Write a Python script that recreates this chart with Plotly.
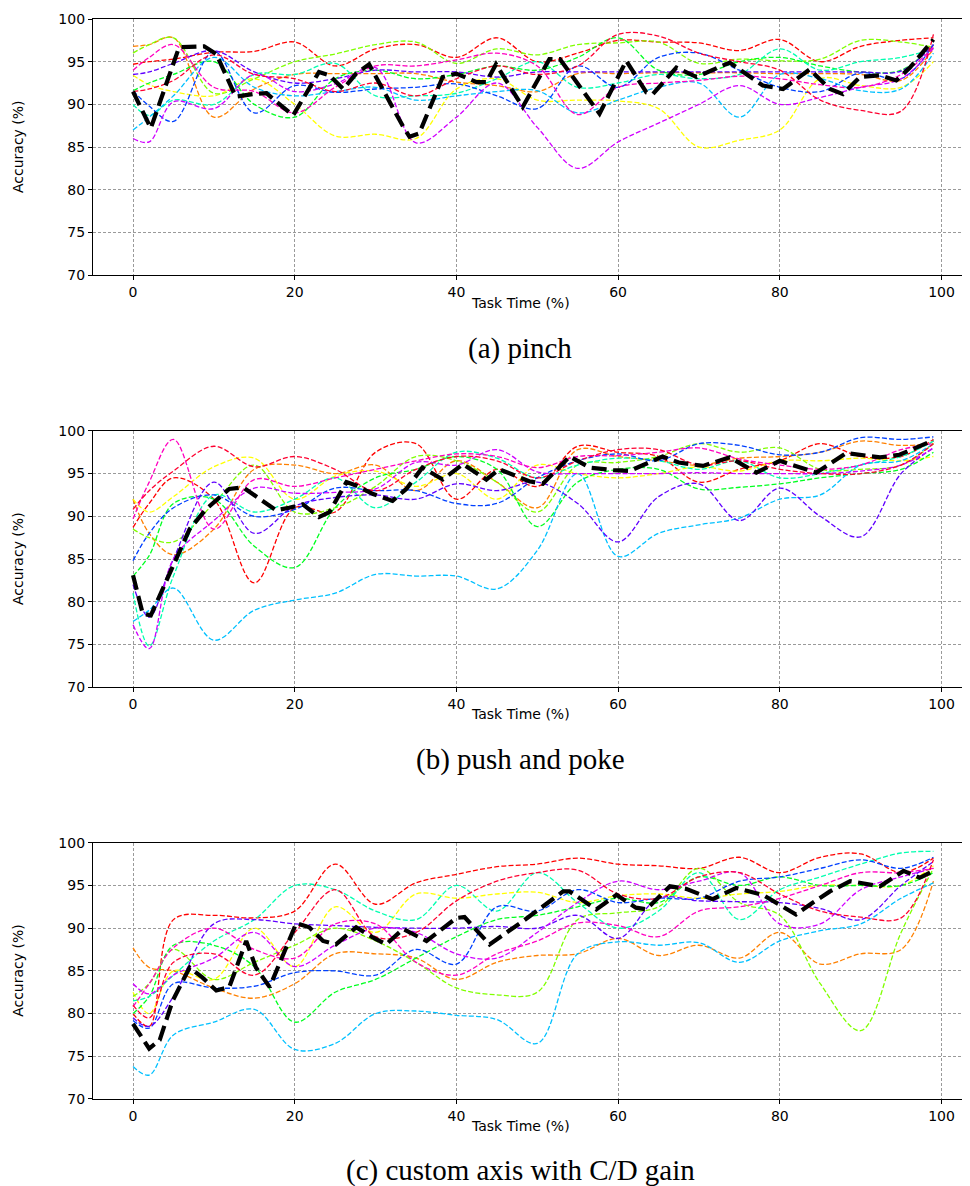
import plotly.graph_objects as go

# ---------------- data ----------------
task_time = [0, 2, 5, 10, 15, 20, 25, 30, 35, 40, 45, 50, 55, 60, 65, 70, 75, 80, 85, 90, 95, 99]

participant_colors = ['#ff0000', '#ff8000', '#ffff00', '#80ff00', '#00ff20', '#00ffb0',
                      '#00c0ff', '#0040ff', '#6000ff', '#d000ff', '#ff00c0', '#ff0030']

# (a) pinch  -- one list per participant, in colour order
pinch_red    = [94.7, 95, 95.3, 96.1, 96.2, 97.3, 94.5, 96.5, 97, 95.5, 97.8, 95, 96, 97.5, 97.3, 97.2, 96.3, 97.6, 95, 96.8, 97.5, 97.8]
pinch_orange = [96.8, 97, 97.8, 88.5, 91.8, 93.5, 93.6, 93.6, 93.6, 92.6, 92.2, 91.5, 93.6, 93.6, 93.7, 93.7, 93.7, 93.6, 93.6, 93.5, 92.8, 96.5]
pinch_yellow = [93.4, 92.3, 91.5, 91, 93, 90, 86.3, 86.5, 86, 91.8, 93, 90.5, 90.5, 90.4, 89.5, 85, 85.8, 87, 93, 92.2, 92, 95]
pinch_lime   = [96, 97, 97.8, 91.3, 93, 95, 95.9, 97, 97.3, 94.8, 96.5, 95.8, 97, 97.2, 97.3, 94.8, 95.3, 95.1, 95.3, 97.5, 97.3, 96.7]
pinch_green  = [91.6, 92.5, 93.5, 95, 90, 88.5, 93, 94, 93, 93.5, 94.5, 94, 95.5, 97.8, 94, 93.5, 95, 95.5, 94.5, 93.8, 94, 97]
pinch_spring = [90, 88.7, 90.5, 90, 93.5, 93.5, 94.8, 91, 91, 91.3, 93, 95, 92, 92.5, 93.5, 93, 93.5, 96.5, 94, 95, 95.5, 96.5]
pinch_sky    = [87, 88.5, 91, 95.5, 92, 91, 91.5, 92, 90.5, 91, 91.5, 91.6, 89, 90.5, 92, 92.5, 88.5, 93.5, 93, 91.6, 91.8, 96]
pinch_blue   = [91.6, 89.8, 88, 96.2, 89, 92.2, 91.4, 91.8, 92, 92.4, 91, 89.5, 94.5, 92, 95.5, 96, 94, 92, 91.5, 93.7, 93, 97]
pinch_violet = [93.5, 93.8, 94.8, 96.3, 93.8, 92.5, 93, 94, 93.8, 93.8, 93.2, 93.8, 93.8, 93.8, 93.8, 93.8, 93.8, 93.8, 93.8, 93.8, 93.9, 97]
pinch_purple = [86, 85.6, 90.3, 89.5, 93.5, 91.5, 92.4, 94.3, 85.5, 88.5, 92.5, 87.3, 82.5, 85.6, 87.8, 90, 92.2, 90, 90.8, 92, 93, 96.6]
pinch_pink   = [94, 95.5, 97, 92, 91.5, 89, 92, 94.5, 94.5, 95.2, 96, 94.5, 88.8, 92, 92.5, 92.8, 93.3, 93, 92.3, 92, 93.5, 96.7]
pinch_red2   = [91.5, 91.8, 92.8, 95.8, 93.5, 93, 91.5, 92.5, 91, 93, 94.5, 93.5, 94.5, 98.2, 98, 96, 95, 94, 90.5, 89.3, 89.2, 98.2]

pinch_mean_x = [0, 2.2, 5.7, 8.8, 10.3, 12.7, 14.8, 16.5, 19.8, 23, 24.3, 26, 27.6, 29.2, 33.4, 34.2, 35.4, 38.3, 40,
                42.5, 43.7, 44.9, 48.2, 51.5, 52.8, 56.9, 57.7, 61, 63.5, 64.3, 67.2, 69.7, 73.8, 77.9, 80.4, 83.7,
                86.2, 87.8, 89.9, 92.4, 94.4, 96.1, 99]
pinch_mean_y = [91.5, 87.2, 96.7, 96.8, 95.9, 90.9, 91.2, 91.3, 88.7, 93.8, 93.4, 91.8, 93.6, 94.7, 87.4, 86.2, 86.6, 93.2, 93.6,
                92.6, 92.6, 94.7, 89.7, 95.3, 95.3, 90.1, 88.9, 95.1, 91.4, 91.2, 94.3, 93.2, 94.9, 92.2, 91.8, 94.1,
                91.8, 91.2, 93.2, 93.4, 92.8, 94.3, 97.6]

# (b) push and poke
push_red    = [88.7, 91.5, 94.5, 92, 82.2, 91, 90.5, 97.5, 98.5, 92, 95.5, 93.5, 98.2, 97.5, 97, 94, 95.5, 96.5, 98.5, 97, 97, 99]
push_orange = [92, 88, 85.5, 88.5, 95.5, 96, 95, 96, 93, 96.5, 94, 91, 97.8, 97, 96.5, 96, 96.8, 97, 97.5, 98.8, 98.3, 98.5]
push_yellow = [92, 90.5, 92.3, 95.8, 96.8, 92, 94.7, 95.3, 93.5, 95, 92, 96, 95, 94.5, 95, 95.8, 95.3, 96.5, 96.5, 96.8, 96.5, 97]
push_lime   = [88.5, 87.5, 87, 91.5, 96, 90.5, 91, 93.5, 97, 96.5, 94, 90.5, 96, 96.3, 97, 98.5, 97.5, 98, 95.5, 95.5, 96, 98.5]
push_green  = [83, 85.4, 91.5, 92, 86.5, 84, 91, 94.5, 95.5, 97, 95.5, 88.8, 94, 95.5, 95.5, 93.2, 93.4, 93.8, 94.5, 95, 95.5, 97.5]
push_spring = [81, 74.8, 83, 92.5, 90.5, 92, 94.5, 91, 94, 97.5, 96.8, 94.5, 96, 96.8, 96.5, 95.5, 96.5, 94.5, 95, 96, 97, 98.8]
push_sky    = [77.7, 79, 81.6, 75.5, 79, 80.2, 81, 83.2, 83, 83, 81.5, 86, 95, 85.3, 88, 89, 89.8, 92, 92.5, 96, 96.5, 98.5]
push_blue   = [84.8, 88, 91, 92.5, 90, 90.8, 93.3, 93, 93, 91.5, 91.5, 94.5, 96.5, 97.3, 96.5, 98.5, 98.3, 97.2, 97.5, 99.2, 99, 99.3]
push_violet = [82, 78.2, 85, 94, 88, 91.2, 92.2, 92.5, 92, 93.8, 93, 94, 91.5, 87, 92.3, 93.8, 89.5, 93.3, 90, 87.6, 95, 98]
push_purple = [77.3, 74.5, 85, 89.5, 93.3, 92.7, 92.8, 93.2, 96.3, 96, 97.8, 95.2, 95, 95, 95, 95.1, 95, 95, 95, 95.3, 96, 98]
push_pink   = [89.7, 94, 99, 88.5, 94.3, 93.5, 94.5, 95.5, 96.5, 97.3, 97, 95.7, 97, 97.1, 97.5, 98, 96.7, 96, 95.5, 96, 97.8, 98.5]
push_red2   = [90.8, 93, 95.3, 98.2, 95.8, 97, 95.5, 93, 95.5, 97, 96.5, 94.5, 96.5, 97.8, 97.8, 96, 96.5, 95.5, 95, 95, 96, 98.5]

push_mean_x = [0, 1.2, 2.2, 4.5, 7, 9, 11.9, 13.6, 15.2, 17.7, 19.3, 21, 23, 24.3, 26.4, 27.6, 29.7, 32.1, 33.8, 35.8,
               38.3, 40.8, 43.7, 45.3, 49, 50.7, 54, 56.5, 59.4, 61.4, 65.5, 67.5, 70.5, 73.8, 77.1, 80, 84.5, 88.2,
               92.4, 94.8, 99]
push_mean_y = [83.1, 78.6, 78.4, 83.1, 88.5, 90.8, 93.2, 93.4, 92.4, 90.7, 91, 91.4, 89.9, 90.5, 94, 93.6, 92.6, 91.8, 93.2, 95.7,
               94.3, 96.1, 94.3, 95.5, 94.1, 93.8, 97, 95.7, 95.4, 95.3, 97, 96.3, 95.9, 96.9, 95.1, 96.5, 95.1, 97.4,
               96.9, 97.2, 98.9]

# (c) custom axis with C/D gain
cd_red    = [80, 78.5, 91, 91.5, 91.2, 92, 97.5, 92.8, 95.3, 96.3, 97.2, 97.5, 98.2, 97.5, 97.3, 97, 98.3, 96.5, 98.3, 98.7, 96.5, 98.2]
cd_orange = [87.7, 85.4, 85, 83, 81.8, 83.5, 87, 87, 86.5, 84, 86, 86.8, 87, 88.8, 86.8, 88, 86.5, 89.5, 85.8, 87, 87.5, 95.5]
cd_yellow = [82.5, 80, 85, 84, 90, 85.5, 92.5, 89.5, 94, 93.5, 94, 94.2, 93, 93.8, 94, 93.5, 94, 94.3, 95, 95, 95, 97.3]
cd_lime   = [82, 83.5, 87.5, 84, 86, 88, 90, 88.5, 86, 83, 82.2, 82.5, 91, 91.8, 92.5, 97, 93, 91.5, 83.5, 78, 89.5, 97]
cd_green  = [80, 82, 88, 88, 85.5, 79, 82.5, 84, 86.5, 89, 91, 91.5, 92.5, 93.5, 93, 96, 95, 96, 95, 95, 95, 96.5]
cd_spring = [81.5, 82, 84.5, 88.5, 91, 95, 94.5, 92, 91, 95, 92, 96.5, 93, 90, 92, 96.5, 91, 94.5, 96, 97.5, 98.8, 99]
cd_sky    = [73.8, 72.8, 77.5, 79, 80.5, 75.8, 76.5, 80, 80.3, 79.8, 79.3, 76.5, 87, 88.4, 88, 88.3, 86, 88.5, 89.7, 90.5, 93.5, 95.3]
cd_blue   = [79.2, 78.3, 83.5, 83, 83.2, 84.8, 85, 84.5, 87.5, 85.8, 92.5, 92, 94.5, 93, 93.5, 93.5, 95.5, 96, 97, 98, 97, 98.3]
cd_violet = [79.5, 78.5, 82, 90.5, 91, 90.5, 90.3, 90.1, 90, 90, 90.2, 90, 91.5, 88.8, 93.5, 93.2, 93.1, 93, 92.3, 91, 95, 97.8]
cd_purple = [83.5, 82.3, 84.5, 86.5, 89.5, 85.5, 88, 90, 89.5, 87, 86.5, 89.5, 93, 95.5, 94.5, 95.5, 96.5, 90.5, 90.5, 94.5, 96, 97]
cd_pink   = [80.8, 83.5, 87.7, 90, 87.5, 86.5, 90.5, 90.5, 86, 84.5, 87, 88.5, 90.6, 90.3, 89, 92, 92.5, 93.5, 95, 96.5, 96.5, 97]
cd_red2   = [81, 79.5, 86, 87, 84.5, 89.5, 94.5, 89, 89.5, 93.2, 95.5, 96.5, 96.8, 94, 93.5, 96, 96.5, 94, 92, 91.3, 91.2, 98]

cd_mean_x = [0, 2, 3.3, 4.9, 7, 8.6, 10.3, 11.9, 14, 15.2, 16.9, 20.2, 21.8, 23.5, 25.1, 27.6, 29.7, 31.3, 33.4, 36.3,
             40, 41, 44.1, 48.2, 53.2, 54, 57.3, 59.8, 62.2, 63.5, 66.4, 68.4, 71.7, 74.6, 77.9, 82, 84.1, 86.2, 88.7,
             92.4, 95.3, 97.3, 99]
cd_mean_y = [78.8, 75.9, 76.9, 81.5, 85.4, 84.2, 82.7, 83.1, 88.5, 85.4, 83.1, 90.6, 90.1, 88.5, 88.1, 90.1, 88.9, 88.1, 89.9, 88.5,
             91.2, 91.3, 88.1, 90.8, 94.3, 94.3, 92.2, 93.9, 92.4, 92.2, 94.9, 94.6, 93.4, 94.7, 93.9, 91.6, 93, 94.3, 95.5,
             94.9, 96.7, 95.9, 96.7]

x_ticks = [0, 20, 40, 60, 80, 100]
y_ticks = [70, 75, 80, 85, 90, 95, 100]
captions = ['(a) pinch', '(b) push and poke', '(c) custom axis with C/D gain']
x_title = 'Task Time (%)'
y_title = 'Accuracy (%)'

panels = [
    ([pinch_red, pinch_orange, pinch_yellow, pinch_lime, pinch_green, pinch_spring, pinch_sky,
      pinch_blue, pinch_violet, pinch_purple, pinch_pink, pinch_red2], pinch_mean_x, pinch_mean_y),
    ([push_red, push_orange, push_yellow, push_lime, push_green, push_spring, push_sky,
      push_blue, push_violet, push_purple, push_pink, push_red2], push_mean_x, push_mean_y),
    ([cd_red, cd_orange, cd_yellow, cd_lime, cd_green, cd_spring, cd_sky,
      cd_blue, cd_violet, cd_purple, cd_pink, cd_red2], cd_mean_x, cd_mean_y),
]

# ---------------- layout geometry (window pixels; page body has an 8px margin) ----------------
OFF = 8
W, H = 970, 1186
ax_left, ax_right = 93, 969
panel_px = [(11.3, 269.3), (426.3, 684.5), (841.3, 1099.5)]  # top, bottom window rows
title_px = [297, 712, 1127]
caption_px = [343, 757, 1172]
ylabel_x = 18
center_x = 520

ML = ax_left - OFF
MR = W - (ax_right - OFF)
MT = panel_px[0][0] - OFF
MB = H - (panel_px[2][1] - OFF)
plot_h = H - MT - MB
plot_w = W - ML - MR


def py_to_paper(py):
    return (H - MB - (py - OFF)) / plot_h


def px_to_paper(px):
    return (px - OFF - ML) / plot_w


fig = go.Figure()
tick_font = dict(family='DejaVu Sans', size=14, color='black')
annotations = []

for i, (series, mx, my) in enumerate(panels):
    n = '' if i == 0 else str(i + 1)
    xa, ya = 'x' + n, 'y' + n
    for vals, col in zip(series, participant_colors):
        fig.add_trace(go.Scatter(x=task_time, y=vals, mode='lines', xaxis=xa, yaxis=ya,
                                 line=dict(color=col, width=1.3, dash='5px,2.2px', shape='spline', smoothing=1.0),
                                 showlegend=False, hoverinfo='skip'))
    fig.add_trace(go.Scatter(x=mx, y=my, mode='lines', xaxis=xa, yaxis=ya,
                             line=dict(color='black', width=4.2, dash='15px,6.5px'),
                             showlegend=False, hoverinfo='skip'))
    top, bot = panel_px[i]
    dom = [max(0.0, py_to_paper(bot)), min(1.0, py_to_paper(top))]
    axis_common = dict(showline=True, linecolor='black', linewidth=1.2, ticks='outside', ticklen=4,
                       tickcolor='black', tickwidth=1, tickfont=tick_font, showgrid=True,
                       gridcolor='#9a9a9a', gridwidth=0.8, griddash='3px,2px', zeroline=False)
    fig.layout['xaxis' + n] = dict(axis_common, range=[-4.95, 103.4], tickvals=x_ticks,
                                  anchor=ya, domain=[0, 1], mirror=True)
    fig.layout['yaxis' + n] = dict(axis_common, range=[70, 100], tickvals=y_ticks,
                                  anchor=xa, domain=dom, mirror=False)
    annotations.append(dict(text=x_title, xref='paper', yref='paper', x=px_to_paper(center_x),
                            y=py_to_paper(title_px[i]), showarrow=False, xanchor='center', yanchor='middle',
                            font=dict(family='DejaVu Sans', size=14, color='black')))
    annotations.append(dict(text=y_title, xref='paper', yref='paper', x=px_to_paper(ylabel_x),
                            y=py_to_paper((top + bot) / 2), showarrow=False, xanchor='center', yanchor='middle',
                            textangle=-90, font=dict(family='DejaVu Sans', size=14, color='black')))
    annotations.append(dict(text=captions[i], xref='paper', yref='paper', x=px_to_paper(center_x),
                            y=py_to_paper(caption_px[i]), showarrow=False, xanchor='center', yanchor='middle',
                            font=dict(family='Liberation Serif', size=29, color='black')))

fig.update_layout(width=W, height=H, margin=dict(l=ML, r=MR, t=MT, b=MB),
                  plot_bgcolor='white', paper_bgcolor='white', annotations=annotations,
                  showlegend=False)

fig.write_html('out.html')
